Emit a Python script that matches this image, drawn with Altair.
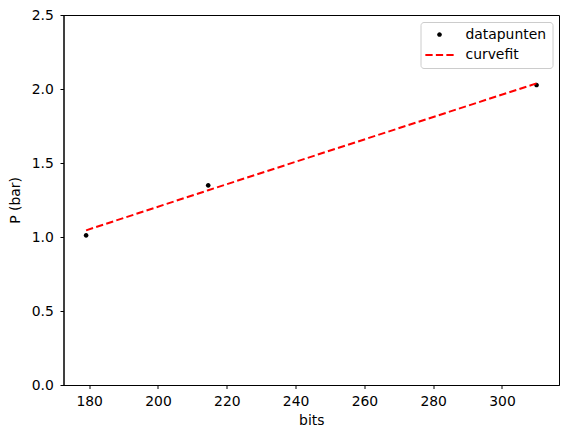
import altair as alt
import pandas as pd

# data
bits = [179.1, 214.6, 310.05]
pressure = [1.011, 1.349, 2.027]
fit_values = [1.045, 1.316, 2.038]
series = ["datapunten", "curvefit"]
series_colors = ["#000000", "#ff0000"]
x_ticks = [180, 200, 220, 240, 260, 280, 300]
y_ticks = [0.0, 0.5, 1.0, 1.5, 2.0, 2.5]

FONT = "DejaVu Sans"
FS = 13.9

# legend / marker glyphs (normalised symbol paths)
dot_path = "M0.33,0A0.33,0.33,0,1,1,-0.33,0A0.33,0.33,0,1,1,0.33,0Z"
dash_path = ("M-2.02,-0.14H-0.98V0.14H-2.02Z "
             "M-0.52,-0.14H0.52V0.14H-0.52Z "
             "M0.98,-0.14H2.02V0.14H0.98Z")

pts = pd.DataFrame({"bits": bits, "P": pressure, "serie": [series[0]] * len(bits)})
fitdf = pd.DataFrame({"bits": bits, "P": fit_values})

xscale = alt.Scale(domain=[172.53, 316.57], nice=False, zero=False)
yscale = alt.Scale(domain=[0, 2.5], nice=False, zero=False)

xaxis = alt.Axis(title="bits", values=x_ticks, grid=False,
                 titleY=39.3, titleBaseline="alphabetic",
                 labelBaseline="alphabetic", labelPadding=17.2)
yaxis = alt.Axis(title="P (bar)", values=y_ticks, format=".1f", grid=False,
                 titleX=-47.8, titleY=185, titleAngle=270,
                 titleBaseline="middle", titleAlign="center",
                 labelPadding=6.7)

points = alt.Chart(pts).mark_point(
    filled=True, size=196, opacity=1, strokeWidth=0
).encode(
    x=alt.X("bits:Q", scale=xscale, axis=xaxis),
    y=alt.Y("P:Q", scale=yscale, axis=yaxis),
    color=alt.Color("serie:N", scale=alt.Scale(domain=series, range=series_colors),
                    legend=alt.Legend(title=None)),
    shape=alt.Shape("serie:N", scale=alt.Scale(domain=series, range=[dot_path, dash_path]),
                    legend=alt.Legend(title=None)),
)

line = alt.Chart(fitdf).mark_line(
    color="#ff0000", strokeDash=[7.3, 3.3], strokeWidth=2
).encode(
    x=alt.X("bits:Q", scale=xscale, axis=xaxis),
    y=alt.Y("P:Q", scale=yscale, axis=yaxis),
)

chart = alt.layer(points, line).properties(
    width=495.5,
    height=370,
    padding={"left": 55.5, "top": 7, "right": 2, "bottom": 45},
    autosize=alt.AutoSizeParams(type="none"),
    background="white",
).configure_view(
    stroke="#000000", strokeWidth=1
).configure_axis(
    labelFont=FONT, labelFontSize=FS, labelColor="#000000",
    titleFont=FONT, titleFontSize=FS, titleColor="#000000", titleFontWeight="normal",
    domainColor="#000000", domainWidth=1, tickColor="#000000", tickWidth=1, tickSize=3.5,
).configure_legend(
    orient="top-right", offset=7, padding=5.5,
    symbolOffset=6.5, labelOffset=19, rowPadding=6.5,
    strokeColor="#cccccc", fillColor="rgba(255,255,255,0.8)", cornerRadius=3,
    labelFont=FONT, labelFontSize=FS, labelColor="#000000",
    symbolSize=196, symbolStrokeWidth=0,
)

chart.save("out.html", embed_options={"renderer": "svg", "actions": False})
